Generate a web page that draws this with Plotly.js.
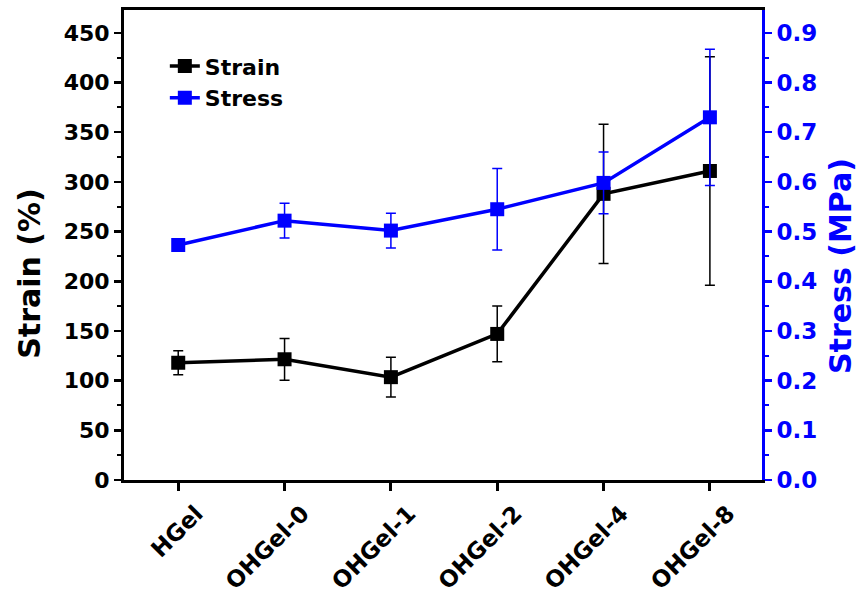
<!DOCTYPE html>
<html>
<head>
<meta charset="utf-8">
<script src="https://cdn.plot.ly/plotly-3.0.1.min.js"></script>
<style>html,body{margin:0;padding:0;background:#fff;}#chart{width:867px;height:596px;}</style>
</head>
<body>
<div id="chart"></div>
<script>
var categories = ['HGel', 'OHGel-0', 'OHGel-1', 'OHGel-2', 'OHGel-4', 'OHGel-8'];
var strain = [118, 121.5, 103.5, 147, 288, 311];
var strainErr = [12, 21, 20, 28, 70, 115];
var stress = [0.473, 0.522, 0.502, 0.545, 0.598, 0.730];
var stressErr = [0.01, 0.035, 0.035, 0.082, 0.062, 0.137];

var FONT = 'DejaVu Sans, Liberation Sans, Arial, sans-serif';
var idx = categories.map(function(c, i){ return i; });

var traces = [
  {
    x: idx, y: strain, name: 'Strain', type: 'scatter', mode: 'lines+markers',
    line: {color: '#000000', width: 3.5},
    marker: {symbol: 'square', size: 14, color: '#000000'},
    error_y: {type: 'data', array: strainErr, visible: true, color: '#000000', thickness: 1.5, width: 5},
    yaxis: 'y'
  },
  {
    x: idx, y: stress, name: 'Stress', type: 'scatter', mode: 'lines+markers',
    line: {color: '#0000FF', width: 3.5},
    marker: {symbol: 'square', size: 14, color: '#0000FF'},
    error_y: {type: 'data', array: stressErr, visible: true, color: '#0000FF', thickness: 1.5, width: 5},
    yaxis: 'y2'
  }
];

var layout = {
  width: 867, height: 596,
  margin: {l: 124, r: 105, t: 10, b: 116},
  paper_bgcolor: '#ffffff', plot_bgcolor: '#ffffff',
  showlegend: true,
  legend: {x: 0.064, y: 0.925, xanchor: 'left', yanchor: 'top', bgcolor: 'rgba(0,0,0,0)',
           font: {family: FONT, size: 22, color: '#000', weight: 'bold'}, tracegroupgap: 0},
  xaxis: {
    range: [-0.51, 5.49], tickmode: 'array', tickvals: idx, ticktext: categories,
    tickangle: -45, showgrid: false, zeroline: false,
    showline: true, linecolor: '#000', linewidth: 3, mirror: true,
    ticks: 'outside', ticklen: 8, tickwidth: 3, tickcolor: '#000',
    ticklabelshift: 18, ticklabelstandoff: 0,
    tickfont: {family: FONT, size: 23, color: '#000', weight: 'bold'}
  },
  yaxis: {
    range: [0, 473], dtick: 50, tick0: 0, showgrid: false, zeroline: false,
    showline: true, linecolor: '#000', linewidth: 3,
    ticks: 'outside', ticklen: 7, tickwidth: 2.5, tickcolor: '#000',
    minor: {dtick: 25, ticks: 'outside', ticklen: 4, tickwidth: 2, tickcolor: '#000'},
    tickfont: {family: FONT, size: 22, color: '#000', weight: 'bold'}
  },
  yaxis2: {
    overlaying: 'y', side: 'right', anchor: 'x',
    range: [0, 0.946], dtick: 0.1, tick0: 0, tickformat: '.1f', showgrid: false, zeroline: false,
    showline: true, linecolor: '#0000FF', linewidth: 3,
    ticks: 'outside', ticklen: 7, tickwidth: 2.5, tickcolor: '#0000FF',
    minor: {dtick: 0.05, ticks: 'outside', ticklen: 4, tickwidth: 2, tickcolor: '#0000FF'},
    tickfont: {family: FONT, size: 23, color: '#0000FF', weight: 'bold'}
  },
  annotations: [
    {text: 'Strain (%)', xref: 'paper', yref: 'paper', x: -0.148, y: 0.44, xanchor: 'center', yanchor: 'middle',
     textangle: -90, showarrow: false, font: {family: FONT, size: 30, color: '#000', weight: 'bold'}},
    {text: 'Stress (MPa)', xref: 'paper', yref: 'paper', x: 1.122, y: 0.455, xanchor: 'center', yanchor: 'middle',
     textangle: -90, showarrow: false, font: {family: FONT, size: 30, color: '#0000FF', weight: 'bold'}}
  ]
};

Plotly.newPlot('chart', traces, layout, {displayModeBar: false, staticPlot: true});
</script>
</body>
</html>
